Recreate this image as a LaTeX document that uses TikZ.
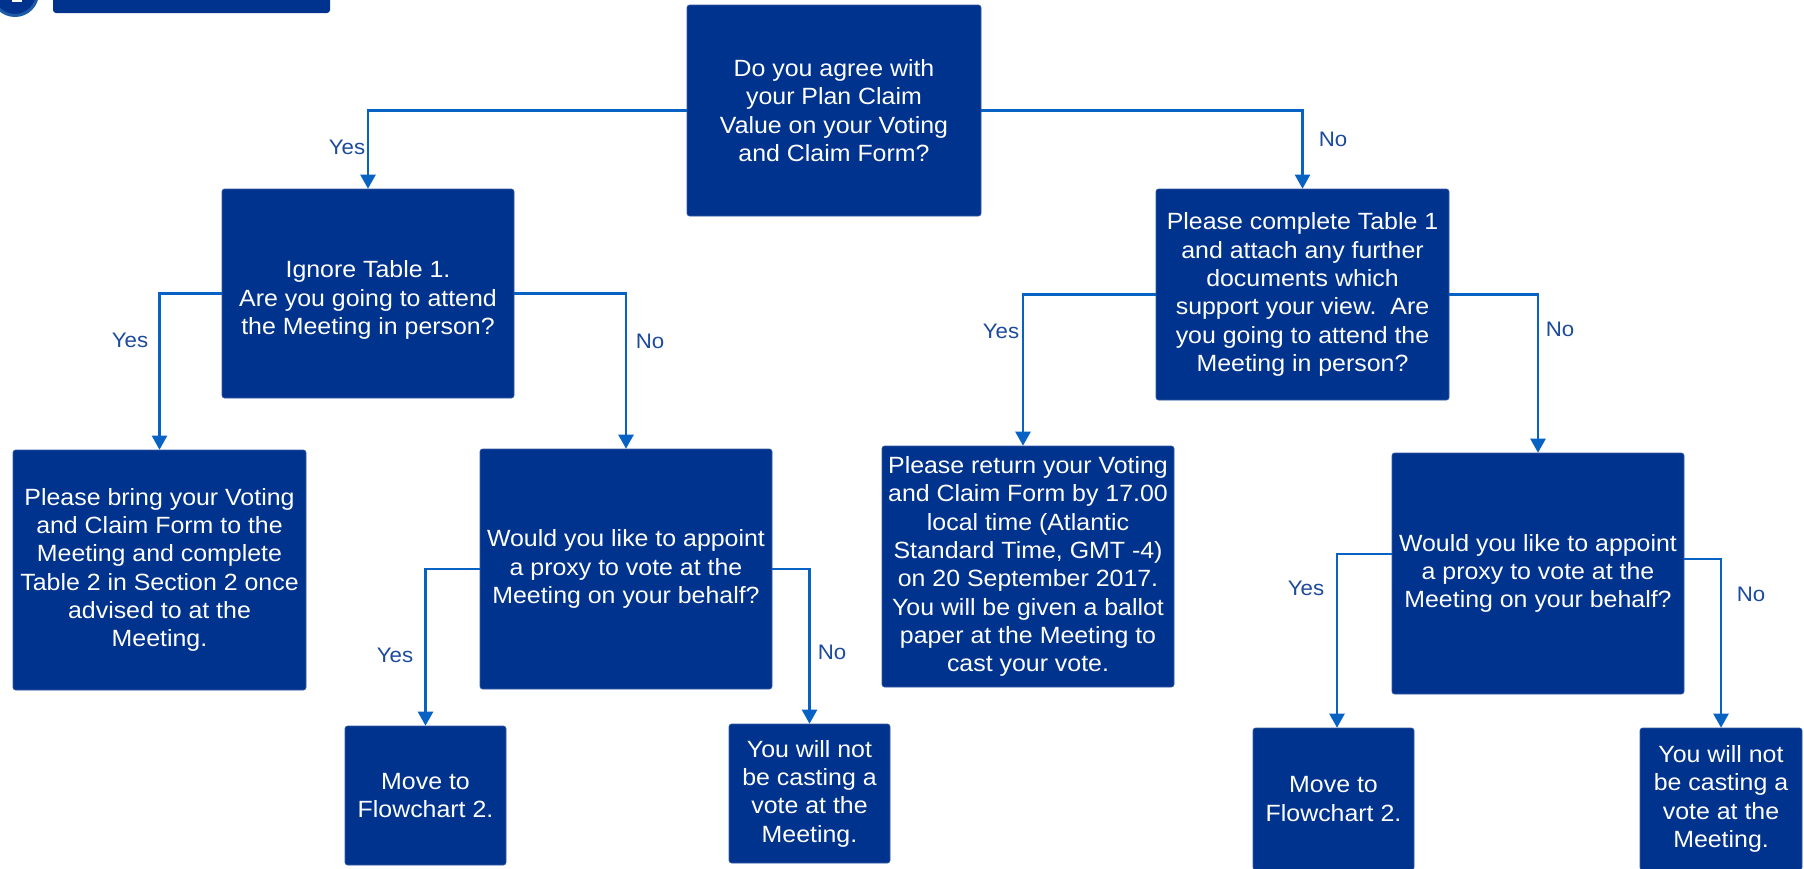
\documentclass[tikz,border=0pt]{standalone}
\usepackage{fontspec}
\setmainfont{Liberation Sans}[FakeStretch=1.06]
\usetikzlibrary{arrows.meta}
\definecolor{kblue}{HTML}{00338D}
\definecolor{kedge}{HTML}{3558A6}
\definecolor{karrow}{HTML}{0762C4}
\definecolor{klabel}{HTML}{1C4A9C}
\definecolor{kring}{HTML}{1D5BA8}
\tikzset{
  box/.style={fill=kblue, draw=kedge, line width=0.6pt, rounded corners=2.5pt,
    text=white, align=center, inner sep=0pt,
    font=\fontsize{23.5}{28.3}\selectfont},
  conn/.style={draw=karrow, line width=2.4pt,
    -{Triangle[width=15pt,length=14pt]}},
  lbl/.style={text=klabel, font=\fontsize{21}{25}\selectfont, inner sep=0pt}
}
\begin{document}
\begin{tikzpicture}[x=1pt,y=-1pt]
\useasboundingbox (0,0) rectangle (1804,868);
% header fragments at top-left
\fill[kblue, rounded corners=3pt] (53,-10) rectangle (330,13);
\draw[kring, line width=3pt, fill=kblue] (15,-7) circle (22.5);
\fill[white] (12,-3) rectangle (22,2);

% boxes
\node[box, minimum width=294pt, minimum height=211pt] (q0) at (834,110.5)
  {Do you agree with\\your Plan Claim\\Value on your Voting\\and Claim Form?};
\node[box, minimum width=292pt, minimum height=209pt] (q1) at (368,293.5)
  {\rule{0pt}{30pt}Ignore Table 1.\\Are you going to attend\\the Meeting in person?};
\node[box, minimum width=293pt, minimum height=211pt] (q2) at (1302.5,294.5)
  {Please complete Table 1\\and attach any further\\documents which\\support your view.~~Are\\you going to attend the\\Meeting in person?};
\node[box, minimum width=293pt, minimum height=240pt] (b1) at (159.5,570)
  {Please bring your Voting\\and Claim Form to the\\Meeting and complete\\Table 2 in Section 2 once\\advised to at the\\Meeting.};
\node[box, minimum width=292pt, minimum height=240pt] (q3) at (626,569)
  {Would you like to appoint\\a proxy to vote at the\\Meeting on your behalf?};
\node[box, minimum width=292pt, minimum height=241pt] (b2) at (1028,566.5)
  {Please return your Voting\\and Claim Form by 17.00\\local time (Atlantic\\Standard Time, GMT -4)\\on 20 September 2017.\\You will be given a ballot\\paper at the Meeting to\\cast your vote.};
\node[box, minimum width=292pt, minimum height=241pt] (q4) at (1538,573.5)
  {Would you like to appoint\\a proxy to vote at the\\Meeting on your behalf?};
\node[box, minimum width=161pt, minimum height=139pt] (b3) at (425.5,795.5)
  {Move to\\Flowchart 2.};
\node[box, minimum width=161pt, minimum height=139pt] (b4) at (809.5,793.5)
  {You will not\\be casting a\\vote at the\\Meeting.};
\node[box, minimum width=161pt, minimum height=142pt] (b5) at (1333.5,799)
  {Move to\\Flowchart 2.};
\node[box, minimum width=162pt, minimum height=142pt] (b6) at (1721,799)
  {You will not\\be casting a\\vote at the\\Meeting.};

% connectors
\draw[conn] (q0.west) -| (q1.north);
\draw[conn] (q0.east) -| (q2.north);
\draw[conn] (q1.west) -| (b1.north);
\draw[conn] (q1.east) -| (q3.north);
\draw[conn] (q2.west) -| ([xshift=-5pt]b2.north);
\draw[conn] (q2.east) -| (q4.north);
\draw[conn] (q3.west) -| (b3.north);
\draw[conn] (q3.east) -| (b4.north);
\draw[conn] ([yshift=19.5pt]q4.west) -| ([xshift=3.5pt]b5.north);
\draw[conn] ([yshift=14.5pt]q4.east) -| (b6.north);

% labels
\node[lbl] (l1) at (347,147) {Yes};
\node[lbl] (l2) at (1333,139) {No};
\node[lbl] (l3) at (130,340) {Yes};
\node[lbl] (l4) at (650,341) {No};
\node[lbl] (l5) at (1001,331) {Yes};
\node[lbl] (l6) at (1560,329) {No};
\node[lbl] (l7) at (395,655) {Yes};
\node[lbl] (l8) at (832,652) {No};
\node[lbl] (l9) at (1306,588) {Yes};
\node[lbl] (l10) at (1751,594) {No};
\end{tikzpicture}
\end{document}
